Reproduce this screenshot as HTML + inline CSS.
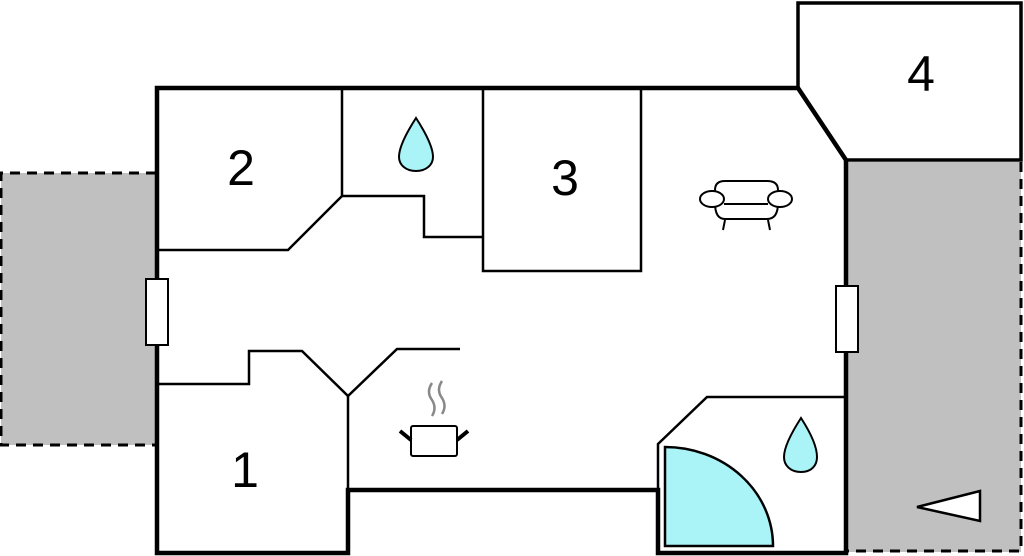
<!DOCTYPE html>
<html><head><meta charset="utf-8"><style>html,body{margin:0;padding:0;background:#fff;width:1024px;height:556px;overflow:hidden}</style></head>
<body>
<svg width="1024" height="556" viewBox="0 0 1024 556" xmlns="http://www.w3.org/2000/svg" style="display:block">
<rect x="1" y="173" width="155" height="272" fill="#c0c0c0"/>
<path d="M156,173 H1 V445 H156" fill="none" stroke="#000" stroke-width="3" stroke-dasharray="10,7"/>
<rect x="846" y="162" width="175" height="390" fill="#c0c0c0"/>
<path d="M1021,162 V551 H846" fill="none" stroke="#000" stroke-width="3" stroke-dasharray="10,7"/>
<path d="M798,88 V3 H1021 V160 H846" fill="#fff" stroke="#000" stroke-width="3.5"/>
<g fill="none" stroke="#000" stroke-width="2.5">
<path d="M157,250 H288 L342,196 V88"/>
<path d="M342,196 H424 V237 H483"/>
<rect x="483" y="88" width="158" height="183"/>
<path d="M157,384 H249 V351 H302 L348,396 L397,349 H460"/>
<path d="M348,396 V490"/>
<path d="M846,397 H707 L658,444 V553"/>
</g>
<path d="M157,553 V88 H798 L846,160 V553 H658 V490 H348 V553 Z" fill="none" stroke="#000" stroke-width="4.5" stroke-linejoin="miter"/>
<rect x="146" y="279" width="22" height="66" fill="#fff" stroke="#000" stroke-width="2"/>
<rect x="836" y="286" width="22" height="66" fill="#fff" stroke="#000" stroke-width="2"/>
<path d="M665,546 V447 A108,99 0 0 1 773,546 Z" fill="#aaf3f7" stroke="#000" stroke-width="2.5"/>
<path d="M416,118 C405,135 399,148 399,157 C399,165 406,171 416,171 C426,171 433,165 433,157 C433,148 427,135 416,118 Z" fill="#aaf3f7" stroke="#000" stroke-width="2"/>
<path d="M801,418 C790,435 784,448 784,457 C784,466 791,472 801,472 C811,472 817,466 817,457 C817,448 812,435 801,418 Z" fill="#aaf3f7" stroke="#000" stroke-width="2"/>
<path d="M917,507 L980,491 V521 Z" fill="#fff" stroke="#000" stroke-width="2.5"/>
<g fill="#fff" stroke="#000" stroke-width="2">
<path d="M715,203 V190 Q715,181 725,181 H767 Q778,181 778,190 V203"/>
<path d="M715,203 Q715,219 725,219 H767 Q778,219 778,203"/>
<ellipse cx="712" cy="199" rx="12" ry="8"/>
<ellipse cx="780" cy="199" rx="12" ry="8"/>
<path d="M725,220 L723,230 M768,220 L770,230"/>
<path d="M724,204 H768"/>
</g>
<g fill="none" stroke="#000">
<rect x="411" y="426" width="46" height="30" rx="2" fill="#fff" stroke-width="2"/>
<path d="M400,431 L411,440 M468,431 L457,440" stroke-width="4"/>
</g>
<path d="M432,383 Q426,392 432,400 Q437,408 432,416 M442,381 Q436,390 442,398 Q447,406 442,414" fill="none" stroke="#888" stroke-width="2.5"/>
<g font-family="Liberation Sans, sans-serif" font-size="50" text-anchor="middle" fill="#000">
<text x="241" y="185">2</text>
<text x="565" y="195">3</text>
<text x="921" y="91">4</text>
<text x="245" y="487">1</text>
</g>
</svg>
</body></html>
